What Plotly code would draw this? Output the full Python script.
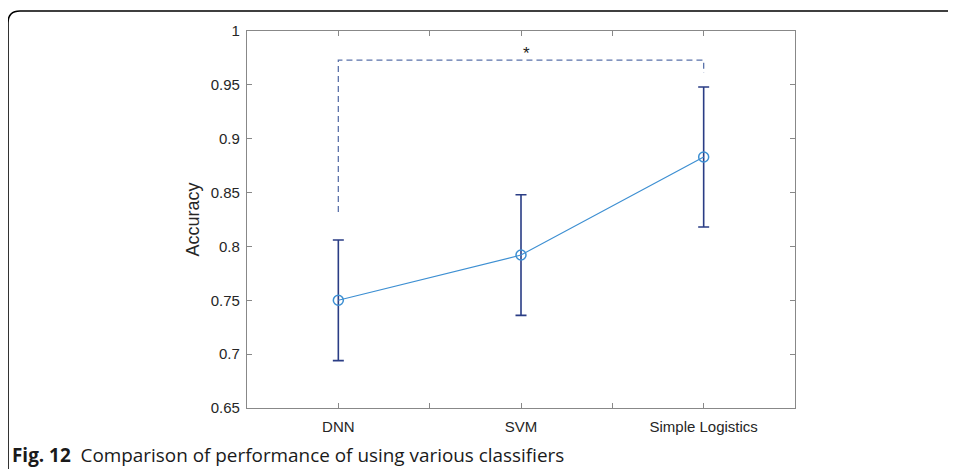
import plotly.graph_objects as go

categories = ["DNN", "SVM", "Simple Logistics"]
accuracy = [0.750, 0.792, 0.883]
err = [0.056, 0.056, 0.065]
bracket_y = [0.832, 0.973, 0.973, 0.961]
sig_label = "*"
yticks = [0.65, 0.7, 0.75, 0.8, 0.85, 0.9, 0.95, 1.0]
ytick_text = ["0.65", "0.7", "0.75", "0.8", "0.85", "0.9", "0.95", "1"]

W, H = 956, 469
OFF = 8  # page body margin
L, R, T, B = 247 - OFF, 795 - OFF, 31 - OFF, 408 - OFF

xidx = list(range(len(categories)))

fig = go.Figure()
# error bars
fig.add_trace(go.Scatter(
    x=xidx, y=accuracy, mode="markers",
    marker=dict(size=0.1, color="rgba(0,0,0,0)"),
    error_y=dict(type="data", array=err, visible=True, color="#2a3d85",
                 thickness=1.6, width=5.5),
    showlegend=False, hoverinfo="skip"))
# line + open circles
fig.add_trace(go.Scatter(
    x=xidx, y=accuracy, mode="lines+markers",
    line=dict(color="#3d8fd2", width=1.2),
    marker=dict(symbol="circle-open", size=10, color="#3d8fd2", line=dict(width=1.5)),
    showlegend=False))
# significance bracket
fig.add_trace(go.Scatter(
    x=[xidx[0], xidx[0], xidx[-1], xidx[-1]], y=bracket_y, mode="lines",
    line=dict(color="#5a72aa", width=1.3, dash="6px,4px"),
    showlegend=False, hoverinfo="skip"))

fig.add_annotation(x=1.03, y=0.979, text=sig_label, showarrow=False,
                   font=dict(family="Liberation Sans, Arial", size=17, color="#222"),
                   xref="x", yref="y")

def px(x):
    return (x - OFF - L) / (R - L)

def py(y):
    return (B - (y - OFF)) / (B - T)

path = (f"M {px(8)},{py(480)} L {px(8)},{py(23)} "
        f"Q {px(8)},{py(11)} {px(20)},{py(11)} L {px(970)},{py(11)}")
fig.add_shape(type="path", path=path, xref="paper", yref="paper",
              line=dict(color="#000", width=1.6), layer="above")

fig.add_annotation(x=px(10), y=py(455), xref="paper", yref="paper",
                   xanchor="left", yanchor="middle", showarrow=False,
                   text="<b>Fig. 12</b>  Comparison of performance of using various classifiers",
                   font=dict(family="Open Sans, Noto Sans", size=18.9, color="#1a1a1a"))

axis_common = dict(showline=True, linecolor="#888", linewidth=1.3, mirror="ticks",
                   ticks="inside", ticklen=5, tickcolor="#888", tickwidth=1.3,
                   showgrid=False, zeroline=False,
                   tickfont=dict(family="Liberation Sans, Arial", size=15, color="#262626"))

fig.update_layout(
    width=W, height=H,
    margin=dict(l=L, r=W - R, t=T, b=H - B),
    plot_bgcolor="white", paper_bgcolor="white",
    xaxis=dict(range=[-0.5, 2.5], tickvals=[0, 0.5, 1, 1.5, 2],
               ticktext=[categories[0], "", categories[1], "", categories[2]],
               ticklabelstandoff=5, **axis_common),
    yaxis=dict(range=[0.65, 1.0], tickvals=yticks, ticktext=ytick_text,
               ticklabelstandoff=3,
               title=dict(text="Accuracy", standoff=6,
                          font=dict(family="Liberation Sans, Arial", size=18, color="#262626")),
               **axis_common),
)

fig.write_html("out.html")
